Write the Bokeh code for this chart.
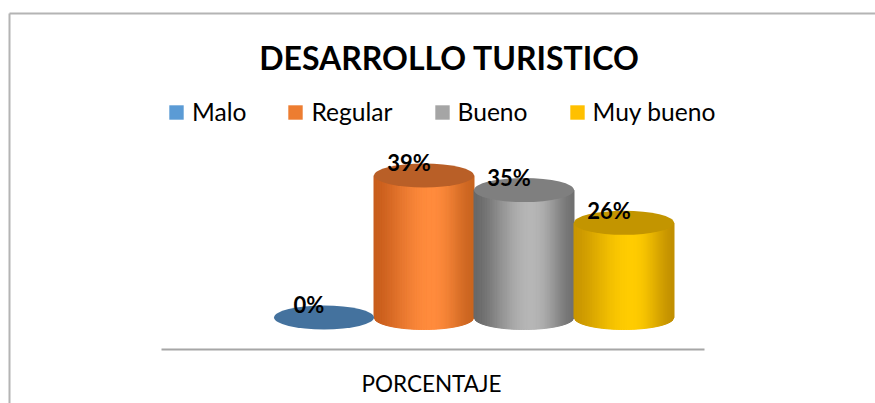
import numpy as np
from bokeh.plotting import figure
from bokeh.models import Range1d, Label, Legend, LegendItem
from bokeh.core.properties import value
from bokeh.embed import file_html
from bokeh.resources import INLINE

# ---------------- data ----------------
title = "DESARROLLO TURISTICO"
categories = ["Malo", "Regular", "Bueno", "Muy bueno"]
percent = [0, 39, 35, 26]
labels = ["0%", "39%", "35%", "26%"]
axis_label = "PORCENTAJE"

# ---------------- style ----------------
legend_colors = ["#5b9bd5", "#ed7d31", "#a5a5a5", "#ffc000"]
top_colors = ["#44729e", "#b95f27", "#7f7f7f", "#c39500"]
side_dark_left = ["#2f5d86", "#c85d1c", "#686868", "#c99600"]
side_light = ["#5b9bd5", "#ff8b3c", "#b6b6b6", "#ffcc00"]
side_dark_right = ["#2f5d86", "#c9641f", "#707070", "#c29000"]

W, H = 875, 403
X0 = -3.235
X1 = X0 + W / 100.0
Y0 = -23.63
Y1 = Y0 + H / 3.64
BAR_W = 1.0
ELL_H = 6.6          # full ellipse height (data units)
E = ELL_H / 2
NSTRIP = 60

def hex2rgb(h):
    h = h.lstrip("#")
    return np.array([int(h[i:i + 2], 16) for i in (0, 2, 4)], dtype=float)

def rgb2hex(c):
    c = np.clip(np.round(c), 0, 255).astype(int)
    return "#%02x%02x%02x" % tuple(c)

p = figure(width=W, height=H, x_range=Range1d(X0, X1), y_range=Range1d(Y0, Y1),
           output_backend="svg", toolbar_location=None, min_border=0)
p.axis.visible = False
p.grid.visible = False
p.outline_line_color = None
p.background_fill_color = "white"
p.border_fill_color = "white"

xs_cat = list(range(len(categories)))

# cylinder bodies (vertical shading strips)
for i, (xc, v) in enumerate(zip(xs_cat, percent)):
    if v <= 0:
        continue
    dl, lt, dr = hex2rgb(side_dark_left[i]), hex2rgb(side_light[i]), hex2rgb(side_dark_right[i])
    edges = np.linspace(xc - BAR_W / 2, xc + BAR_W / 2, NSTRIP + 1)
    pxs, pys, cols = [], [], []
    peak = 0.58

    def bot(x, xc=xc):
        t = (x - xc) / (BAR_W / 2)
        return -E * np.sqrt(max(0.0, 1 - t * t))

    for k in range(NSTRIP):
        a, b = edges[k], edges[k + 1]
        u = ((a + b) / 2 - (xc - BAR_W / 2)) / BAR_W
        if u < peak:
            s = (1 - np.cos(np.pi * u / peak)) / 2
            col = dl + (lt - dl) * s ** 0.8
        else:
            s = (1 - np.cos(np.pi * (1 - u) / (1 - peak))) / 2
            col = dr + (lt - dr) * s ** 0.8
        pxs.append([a, b, b, a])
        pys.append([v, v, bot(b), bot(a)])
        cols.append(rgb2hex(col))
    p.patches(pxs, pys, fill_color=cols, line_color=cols, line_width=1)

# top ellipses
p.ellipse(x=xs_cat, y=percent, width=BAR_W, height=ELL_H,
          fill_color=top_colors, line_color=None)

# value labels
p.text(x=[x - 0.15 for x in xs_cat], y=[v + 3.5 for v in percent], text=labels,
       text_align="center", text_baseline="middle", text_font=value("Lato"),
       text_font_style="bold", text_font_size="22px", text_color="#000000")

# category axis line
p.segment(x0=[-1.625], y0=[-8.79], x1=[3.805], y1=[-8.79], line_color="#a6a6a6", line_width=2)

# chart border (top & left)
p.segment(x0=[-3.145, -3.145], y0=[Y0, 83.5], x1=[-3.145, X1], y1=[83.5, 83.5],
          line_color="#b4b4b4", line_width=2)

# legend (proxy renderers placed outside the visible range)
items = []
for name, c in zip(categories, legend_colors):
    r = p.quad(left=[X1 + 1], right=[X1 + 2], top=[Y1 + 2], bottom=[Y1 + 1],
               fill_color=c, line_color=None)
    items.append(LegendItem(label=name, renderers=[r]))
legend = Legend(items=items, orientation="horizontal", location=(167, 277),
                glyph_width=18, glyph_height=18, label_standoff=7, spacing=40,
                padding=0, margin=0, border_line_color=None, background_fill_alpha=0,
                label_text_font="Lato", label_text_font_size="24.6px",
                label_text_color="#000000")
p.add_layout(legend)

# title
p.add_layout(Label(x=449, y=346, x_units="screen", y_units="screen", text=title,
                   text_align="center", text_baseline="middle", text_font="Lato",
                   text_font_style="bold", text_font_size="32px", text_color="#000000"))

# axis title
p.add_layout(Label(x=431, y=20, x_units="screen", y_units="screen", text=axis_label,
                   text_align="center", text_baseline="middle", text_font="Lato",
                   text_font_size="22.5px", text_color="#000000"))

open("out.html", "w").write(file_html(p, INLINE))
